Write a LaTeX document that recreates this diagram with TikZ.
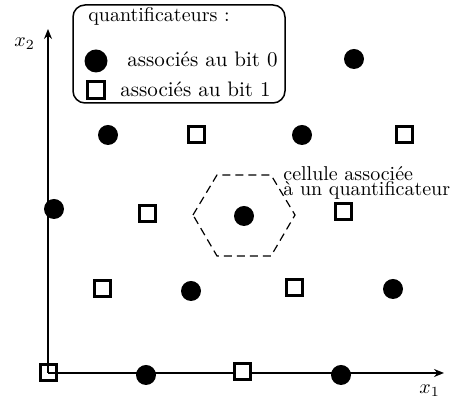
\documentclass[tikz,border=0pt]{standalone}
\usetikzlibrary{arrows.meta}
\begin{document}
\begin{tikzpicture}[x=0.5pt,y=-0.5pt,
  bitzero/.style={circle,fill=black,inner sep=0pt,minimum size=10pt},
  bitone/.style={rectangle,draw=black,fill=white,line width=1.5pt,inner sep=0pt,minimum size=8pt},
  axis/.style={line width=0.8pt,-{Stealth[length=5pt,width=4pt]}},
  cell/.style={dashed,line width=0.6pt,dash pattern=on 4pt off 2.5pt},
  legendbox/.style={draw,line width=0.75pt,rounded corners=6pt},
  lbl/.style={inner sep=0pt,anchor=base west},
  entry/.style={lbl,font=\fontsize{10.5}{12}\selectfont}]
\useasboundingbox (0,0) rectangle (456,399);

% origin marker (left open so the axes show through it)
\node[bitone,fill=none] (o) at (48,373) {};
\coordinate (xend) at (444,373);
\coordinate (yend) at (48,29);
\draw[axis] (o.center) -- (xend);
\draw[axis] (o.center) -- (yend);
\node[lbl] (lx1) at (419,394) {$x_1$};
\node[lbl] (lx2) at (14,47) {$x_2$};

% bit-0 quantifiers
\node[bitzero] (c1) at (146,375) {};
\node[bitzero] (c2) at (341,375) {};
\node[bitzero] (c3) at (191,291) {};
\node[bitzero] (c4) at (393,289) {};
\node[bitzero] (c5) at (244,216) {};
\node[bitzero] (c6) at (54,209) {};
\node[bitzero] (c7) at (108,135) {};
\node[bitzero] (c8) at (302,135) {};
\node[bitzero] (c9) at (354,59) {};

% bit-1 quantifiers
\node[bitone] (s1) at (242,372) {};
\node[bitone] (s2) at (102,289) {};
\node[bitone] (s3) at (294,288) {};
\node[bitone] (s4) at (147,214) {};
\node[bitone] (s5) at (343,212) {};
\node[bitone] (s6) at (196,135) {};
\node[bitone] (s7) at (404,135) {};

% Voronoi cell around one quantifier
\draw[cell] (193,215) -- (217,175) -- (271,175) -- (295,215) -- (271,256) -- (217,256) -- cycle;
\node[lbl] (cellA) at (283,181) {cellule associée};
\node[lbl] (cellB) at (283,196) {à un quantificateur};

% legend
\draw[legendbox] (73,5) rectangle (285,103);
\node[lbl] (lt) at (88,22) {quantificateurs :};
\node[bitzero,minimum size=11.5pt] (lc) at (96,61) {};
\node[entry] (l0) at (127,67) {associés au bit 0};
\node[bitone,minimum size=8.5pt] (ls) at (96,90) {};
\node[entry] (l1) at (120,97) {associés au bit 1};
\end{tikzpicture}
\end{document}
